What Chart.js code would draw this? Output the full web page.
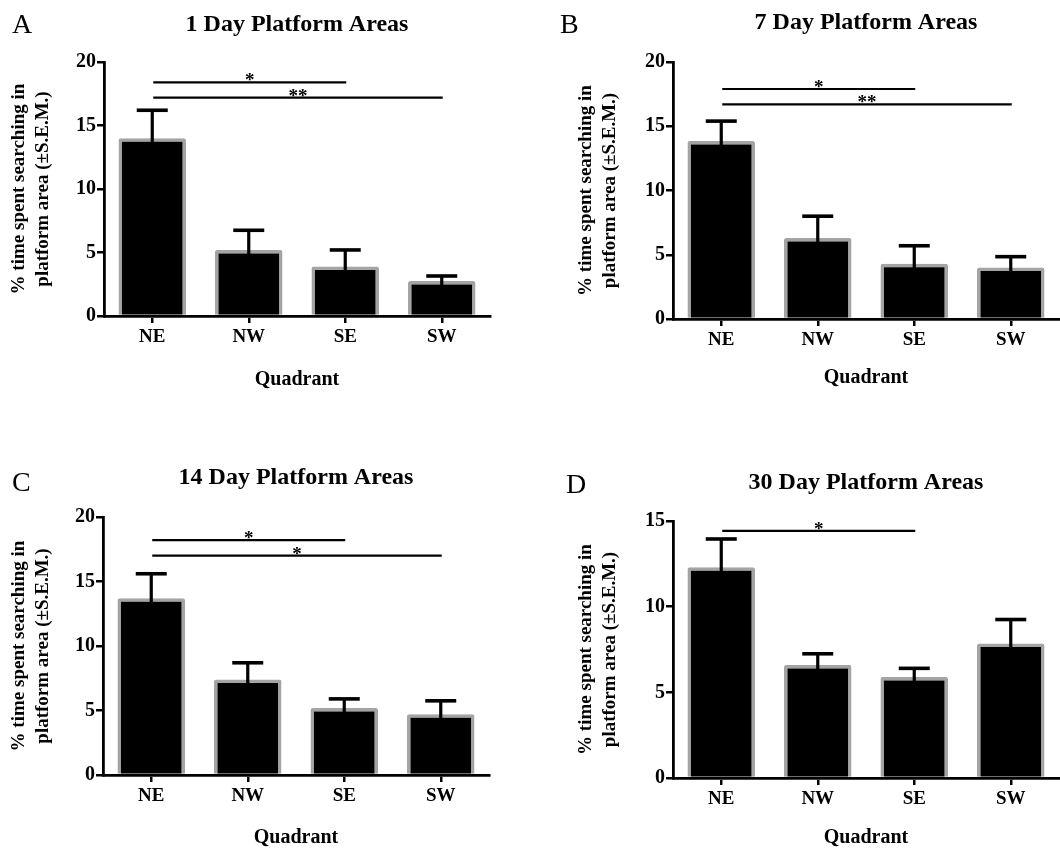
<!DOCTYPE html>
<html>
<head>
<meta charset="utf-8">
<script src="https://cdn.jsdelivr.net/npm/chart.js@4.4.1/dist/chart.umd.min.js"></script>
<style>
  body { margin: 0; background: #fff; width: 1060px; height: 852px; position: relative; overflow: hidden; font-family: 'Liberation Serif', 'Times New Roman', serif; }
  .panel { position: absolute; width: 530px; height: 426px; }
  .letter { position: absolute; font-size: 28px; line-height: 28px; color: #000; }
</style>
</head>
<body>
<div class="panel" style="left:0;top:0"><canvas id="chartA"></canvas></div>
<div class="panel" style="left:530px;top:0"><canvas id="chartB"></canvas></div>
<div class="panel" style="left:0;top:426px"><canvas id="chartC"></canvas></div>
<div class="panel" style="left:530px;top:426px"><canvas id="chartD"></canvas></div>
<div class="letter" style="left:12px;top:10px">A</div>
<div class="letter" style="left:560px;top:10px">B</div>
<div class="letter" style="left:12px;top:468px">C</div>
<div class="letter" style="left:566px;top:470px">D</div>
<script>
const SERIF = "'Liberation Serif', 'Times New Roman', serif";
const quadrants = ['NE', 'NW', 'SE', 'SW'];
const yAxisTitle = ['% time spent searching in', 'platform area (\u00B1S.E.M.)'];

// mean and S.E.M. per quadrant
const day1Mean = [14.0, 5.2, 3.9, 2.75];
const day1Sem = [2.2, 1.55, 1.3, 0.4];
const day7Mean = [13.85, 6.3, 4.3, 4.0];
const day7Sem = [1.55, 1.7, 1.4, 0.85];
const day14Mean = [13.7, 7.4, 5.2, 4.7];
const day14Sem = [1.9, 1.3, 0.7, 1.05];
const day30Mean = [12.3, 6.6, 5.9, 7.85];
const day30Sem = [1.65, 0.65, 0.5, 1.4];

// significance brackets: [from index, to index, y value, label]
const day1Sig = [[0, 2, 18.4, '*'], [0, 3, 17.2, '**']];
const day7Sig = [[0, 2, 17.9, '*'], [0, 3, 16.7, '**']];
const day14Sig = [[0, 2, 18.2, '*'], [0, 3, 17.0, '*']];
const day30Sig = [[0, 2, 14.42, '*']];

// page positions of each plot, in px
const panelBoxes = {
  A: { x0: 0, y0: 0, left: 104, right: 490, top: 62, bottom: 316, titleY: 25, xTitleY: 380, yTitleX: 19 },
  B: { x0: 530, y0: 0, left: 673, right: 1059, top: 62, bottom: 319, titleY: 23, xTitleY: 378, yTitleX: 586 },
  C: { x0: 0, y0: 426, left: 103, right: 489, top: 517, bottom: 775, titleY: 478, xTitleY: 838, yTitleX: 19 },
  D: { x0: 530, y0: 426, left: 673, right: 1059, top: 521, bottom: 778, titleY: 483, xTitleY: 838, yTitleX: 586 }
};

const errorBars = {
  id: 'errorBars',
  afterDatasetsDraw(chart, args, opts) {
    const ctx = chart.ctx;
    const y = chart.scales.y;
    const meta = chart.getDatasetMeta(0);
    const means = chart.data.datasets[0].data;
    ctx.save();
    ctx.strokeStyle = '#000';
    meta.data.forEach((bar, i) => {
      const top = y.getPixelForValue(means[i] + opts.sem[i]);
      ctx.lineWidth = 3.2;
      ctx.beginPath();
      ctx.moveTo(bar.x, bar.y + 5);
      ctx.lineTo(bar.x, top);
      ctx.stroke();
      ctx.lineWidth = 3.6;
      ctx.beginPath();
      ctx.moveTo(bar.x - 15.5, top);
      ctx.lineTo(bar.x + 15.5, top);
      ctx.stroke();
    });
    ctx.restore();
  }
};

const sigBrackets = {
  id: 'sigBrackets',
  afterDraw(chart, args, opts) {
    const ctx = chart.ctx;
    const x = chart.scales.x;
    const y = chart.scales.y;
    ctx.save();
    ctx.strokeStyle = '#000';
    ctx.fillStyle = '#000';
    ctx.lineWidth = 2.2;
    ctx.font = 'bold 19px ' + SERIF;
    ctx.textAlign = 'center';
    ctx.textBaseline = 'alphabetic';
    opts.rows.forEach(([from, to, value, label]) => {
      const x1 = x.getPixelForTick(from) + 1;
      const x2 = x.getPixelForTick(to) + 1;
      const py = y.getPixelForValue(value);
      ctx.beginPath();
      ctx.moveTo(x1, py);
      ctx.lineTo(x2, py);
      ctx.stroke();
      ctx.fillText(label, (x1 + x2) / 2, py + 4);
    });
    ctx.restore();
  }
};

function renderPanel(id, box, title, yMax, means, sems, sigs) {
  const W = 530, H = 426;
  const yWidth = box.left - box.x0;
  const padRight = W - (box.right - box.x0);
  const titleTop = (box.titleY - box.y0) - 14.4;
  const titleBottom = (box.top - box.titleY) - 14.4;
  const xHeight = (box.xTitleY - box.bottom) + 12;
  const padBottom = H - (box.bottom - box.y0) - xHeight;

  return new Chart(document.getElementById(id), {
    type: 'bar',
    data: {
      labels: quadrants,
      datasets: [{
        data: means,
        backgroundColor: '#000',
        borderColor: '#a4a4a4',
        borderWidth: 3.5,
        borderRadius: 2,
        barPercentage: 0.7,
        categoryPercentage: 1
      }]
    },
    plugins: [errorBars, sigBrackets],
    options: {
      responsive: true,
      maintainAspectRatio: false,
      animation: false,
      layout: { padding: { left: 0, right: padRight, top: 0, bottom: padBottom } },
      plugins: {
        legend: { display: false },
        tooltip: { enabled: false },
        title: {
          display: true,
          text: title,
          fullSize: false,
          color: '#000',
          font: { family: SERIF, size: 24, weight: 'bold', lineHeight: 1.2 },
          padding: { top: titleTop, bottom: titleBottom }
        },
        errorBars: { sem: sems },
        sigBrackets: { rows: sigs }
      },
      scales: {
        x: {
          offset: true,
          grid: { drawOnChartArea: false, offset: false, tickLength: 7, lineWidth: 2.5, color: '#000' },
          border: { display: true, color: '#000', width: 2.8 },
          ticks: { color: '#000', padding: 3, font: { family: SERIF, size: 19, weight: 'bold', lineHeight: 1.2 } },
          title: {
            display: true,
            text: 'Quadrant',
            color: '#000',
            font: { family: SERIF, size: 20, weight: 'bold', lineHeight: '24px' },
            padding: { top: 0, bottom: 0 }
          },
          afterFit(scale) { scale.height = xHeight; }
        },
        y: {
          min: 0,
          max: yMax,
          grid: { drawOnChartArea: false, tickLength: 7, lineWidth: 2.5, color: '#000' },
          border: { display: true, color: '#000', width: 2.8 },
          ticks: { stepSize: 5, color: '#000', padding: 1, font: { family: SERIF, size: 20, weight: 'bold' } },
          title: {
            display: true,
            text: yAxisTitle,
            color: '#000',
            font: { family: SERIF, size: 19, weight: 'bold', lineHeight: '24px' },
            padding: { top: (box.yTitleX - box.x0) - 12, bottom: 0 }
          },
          afterFit(scale) { scale.width = yWidth; }
        }
      }
    }
  });
}

renderPanel('chartA', panelBoxes.A, '1 Day Platform Areas', 20, day1Mean, day1Sem, day1Sig);
renderPanel('chartB', panelBoxes.B, '7 Day Platform Areas', 20, day7Mean, day7Sem, day7Sig);
renderPanel('chartC', panelBoxes.C, '14 Day Platform Areas', 20, day14Mean, day14Sem, day14Sig);
renderPanel('chartD', panelBoxes.D, '30 Day Platform Areas', 15, day30Mean, day30Sem, day30Sig);
</script>
</body>
</html>
